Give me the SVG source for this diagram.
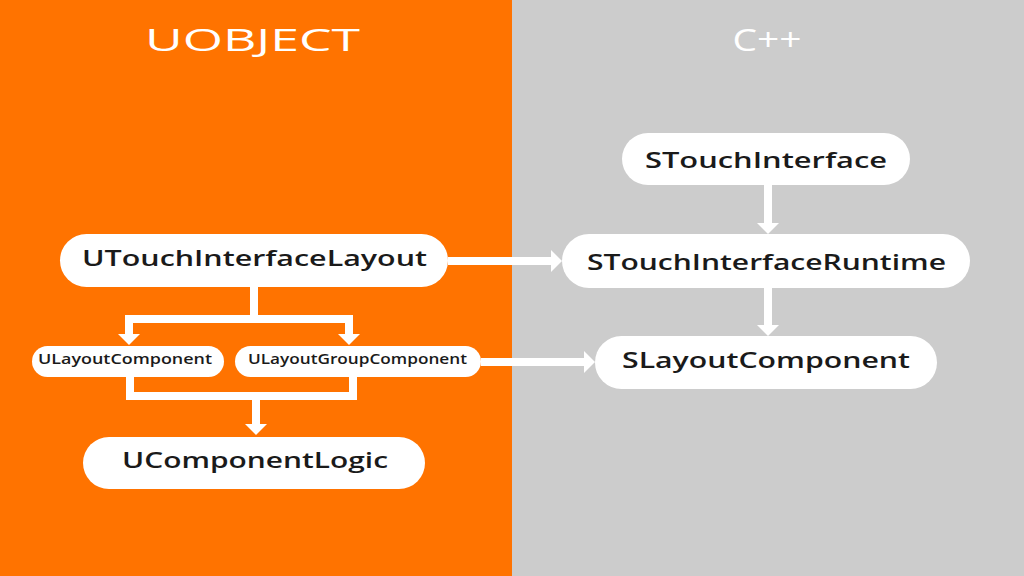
<svg xmlns="http://www.w3.org/2000/svg" width="1024" height="576" viewBox="0 0 1024 576">
  <style>
    .node rect { fill: #ffffff; }
    .node text { font-family: "Open Sans", "DejaVu Sans", sans-serif; font-weight: 600; fill: #1a1a1a; text-anchor: middle; }
    .big { font-size: 21px; }
    .small { font-size: 14px; }
    .title { font-family: "Open Sans", "DejaVu Sans", sans-serif; font-weight: 400; font-size: 31px; fill: #ffffff; text-anchor: middle; }
    .conn { fill: none; stroke: #ffffff; stroke-width: 8; stroke-linejoin: miter; stroke-linecap: butt; }
  </style>
  <defs>
    <marker id="arrow" viewBox="0 0 11 22" markerWidth="11" markerHeight="22" refX="0" refY="11" markerUnits="userSpaceOnUse" orient="auto-start-reverse">
      <path d="M0,0 L11,11 L0,22 Z" fill="#ffffff"/>
    </marker>
  </defs>

  <g id="background">
    <rect x="0" y="0" width="512" height="576" fill="#FF7300"/>
    <rect x="512" y="0" width="512" height="576" fill="#CCCCCC"/>
    <text class="title" x="252.5" y="51" textLength="215" lengthAdjust="spacingAndGlyphs">UOBJECT</text>
    <text class="title" x="767" y="51" textLength="69" lengthAdjust="spacingAndGlyphs">C++</text>
  </g>

  <g id="connectors">
    <path class="conn" d="M254,287 V319"/>
    <path class="conn" d="M129,334 V319 H349 V334" marker-start="url(#arrow)" marker-end="url(#arrow)"/>
    <path class="conn" d="M130,377 V396 H353 V377"/>
    <path class="conn" d="M256,392 V424" marker-end="url(#arrow)"/>
    <path class="conn" d="M448,261 H551" marker-end="url(#arrow)"/>
    <path class="conn" d="M481,362 H584" marker-end="url(#arrow)"/>
    <path class="conn" d="M768,185 V223" marker-end="url(#arrow)"/>
    <path class="conn" d="M768,288 V325" marker-end="url(#arrow)"/>
  </g>

  <g id="UTouchInterfaceLayout" class="node">
    <rect x="60" y="234" width="388" height="53" rx="26.5"/>
    <text class="big" x="254.5" y="266" textLength="345" lengthAdjust="spacingAndGlyphs">UTouchInterfaceLayout</text>
  </g>
  <g id="ULayoutComponent" class="node">
    <rect x="32" y="346" width="192" height="31" rx="15.5"/>
    <text class="small" x="125" y="364" textLength="174" lengthAdjust="spacingAndGlyphs">ULayoutComponent</text>
  </g>
  <g id="ULayoutGroupComponent" class="node">
    <rect x="235" y="346" width="246" height="31" rx="15.5"/>
    <text class="small" x="357.5" y="364" textLength="219" lengthAdjust="spacingAndGlyphs">ULayoutGroupComponent</text>
  </g>
  <g id="UComponentLogic" class="node">
    <rect x="83" y="437" width="342" height="52" rx="26"/>
    <text class="big" x="255" y="468" textLength="266" lengthAdjust="spacingAndGlyphs">UComponentLogic</text>
  </g>
  <g id="STouchInterface" class="node">
    <rect x="622" y="133" width="288" height="52" rx="26"/>
    <text class="big" x="766" y="168" textLength="242" lengthAdjust="spacingAndGlyphs">STouchInterface</text>
  </g>
  <g id="STouchInterfaceRuntime" class="node">
    <rect x="562" y="234" width="408" height="54" rx="27"/>
    <text class="big" x="766.5" y="270" textLength="359" lengthAdjust="spacingAndGlyphs">STouchInterfaceRuntime</text>
  </g>
  <g id="SLayoutComponent" class="node">
    <rect x="595" y="336" width="342" height="53" rx="26.5"/>
    <text class="big" x="766" y="368" textLength="288" lengthAdjust="spacingAndGlyphs">SLayoutComponent</text>
  </g>
</svg>
